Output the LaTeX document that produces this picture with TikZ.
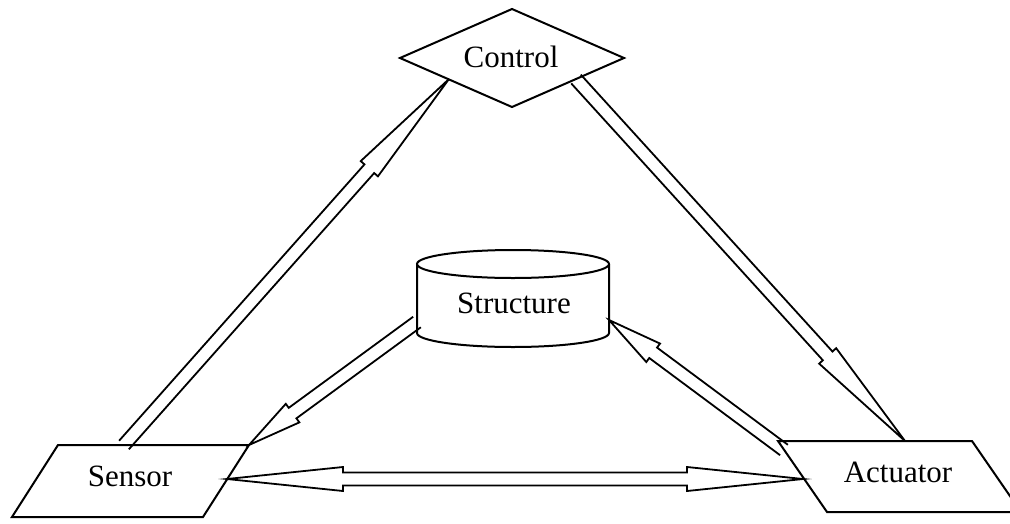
\documentclass[tikz,border=0pt]{standalone}
\usepackage{fontspec}
\setmainfont{Liberation Serif}
\usetikzlibrary{calc}
\tikzset{
  shapeline/.style={draw=black, line width=2pt, line join=miter},
  arr/.style={draw=black, line width=1.8pt, line join=miter},
  lbl/.style={anchor=base, inner sep=0pt, font=\fontsize{31}{36}\selectfont},
}
% one-headed hollow arrow: #1 tail, #2 tip, #3 head length
\newcommand{\onearrow}[3]{%
  \coordinate (fa-b) at ($(#2)!#3!(#1)$);
  \draw[arr] ($(#1)!6.5pt!90:(#2)$) -- ($(fa-b)!6.5pt!90:(#2)$) -- ($(fa-b)!11.5pt!90:(#2)$)
    -- (#2) -- ($(fa-b)!11.5pt!-90:(#2)$) -- ($(fa-b)!6.5pt!-90:(#2)$) -- ($(#1)!6.5pt!-90:(#2)$);
}
% two-headed hollow arrow: #1 tip a, #2 tip b, #3 head length
\newcommand{\twoarrow}[3]{%
  \coordinate (fa-a) at ($(#1)!#3!(#2)$);
  \coordinate (fa-c) at ($(#2)!#3!(#1)$);
  \draw[arr] (#1) -- ($(fa-a)!12pt!90:(#2)$) -- ($(fa-a)!6.5pt!90:(#2)$)
    -- ($(fa-c)!6.5pt!90:(#2)$) -- ($(fa-c)!12pt!90:(#2)$) -- (#2)
    -- ($(fa-c)!12pt!-90:(#2)$) -- ($(fa-c)!6.5pt!-90:(#2)$)
    -- ($(fa-a)!6.5pt!-90:(#2)$) -- ($(fa-a)!12pt!-90:(#2)$) -- cycle;
}
\begin{document}
\begin{tikzpicture}[x=1pt,y=-1pt]
\clip (0,0) rectangle (1010,523);
\fill[white] (0,0) rectangle (1010,523);

% Control (diamond)
\draw[shapeline] (400,58) -- (512,9) -- (624,58) -- (512,107) -- cycle;
\node[lbl] (control) at (511,67) {Control};

% Structure (cylinder)
\draw[shapeline] (417,264) -- (417,333) arc[start angle=180, end angle=0, x radius=96, y radius=14] -- (609,264);
\draw[shapeline] (513,264) ellipse[x radius=96, y radius=14];
\node[lbl] (structure) at (514,313) {Structure};

% Sensor (parallelogram)
\draw[shapeline] (58,445) -- (249,445) -- (203,517) -- (12,517) -- cycle;
\node[lbl] (sensor) at (130,486) {Sensor};

% Actuator (parallelogram)
\draw[shapeline] (778,441) -- (972,441) -- (1021,512) -- (827,512) -- cycle;
\node[lbl] (actuator) at (898,482) {Actuator};

% connector end points on the borders
\coordinate (sensor-top) at (124,445);
\coordinate (control-sw) at (449,79);
\coordinate (control-se) at (576,79);
\coordinate (actuator-top) at (905,441);
\coordinate (structure-w) at (417,322);
\coordinate (sensor-ne) at (249,445);
\coordinate (structure-e) at (609,320);
\coordinate (actuator-nw) at (784,450);
\coordinate (sensor-e) at (227,479);
\coordinate (actuator-w) at (803,479);

\onearrow{sensor-top}{control-sw}{120pt}
\onearrow{control-se}{actuator-top}{115pt}
\onearrow{structure-w}{sensor-ne}{54pt}
\onearrow{actuator-nw}{structure-e}{55pt}
\twoarrow{sensor-e}{actuator-w}{116pt}
\end{tikzpicture}
\end{document}
